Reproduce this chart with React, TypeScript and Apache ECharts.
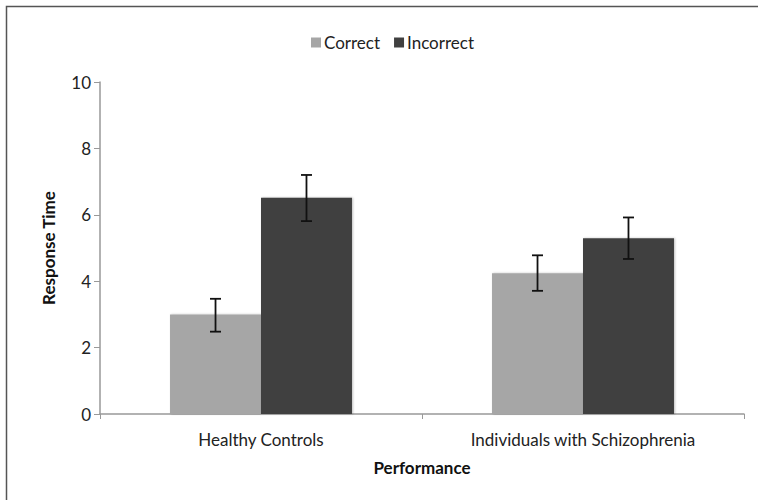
import React, { useEffect, useRef } from "react";
import * as echarts from "echarts";

const categories = ["Healthy Controls", "Individuals with Schizophrenia"];
const seriesNames = ["Correct", "Incorrect"];
const correctValues = [3.0, 4.24];
const incorrectValues = [6.51, 5.29];
const correctErrLow = [2.48, 3.71];
const correctErrHigh = [3.47, 4.78];
const incorrectErrLow = [5.81, 4.67];
const incorrectErrHigh = [7.2, 5.92];
const yTicks = [0, 2, 4, 6, 8, 10];

const FONT = "Lato";
const FS = 17;
const BAR_GROUP = 0.565;

function errorSeries(name: string, idx: number, lows: number[], highs: number[]) {
  return {
    type: "custom",
    name: name + " error",
    z: 10,
    silent: true,
    data: categories.map((_, i) => [i, lows[i], highs[i]]),
    encode: { x: 0, y: [1, 2] },
    renderItem: (params: any, api: any) => {
      const ci = api.value(0);
      const lo = api.coord([ci, api.value(1)]);
      const hi = api.coord([ci, api.value(2)]);
      const band = api.size([1, 0])[0];
      const barW = (band * BAR_GROUP) / 2;
      const x = lo[0] + (idx - 0.5) * barW;
      const cap = 5.5;
      const style = { stroke: "#111", lineWidth: 1.8 };
      return {
        type: "group",
        children: [
          { type: "line", shape: { x1: x, y1: lo[1], x2: x, y2: hi[1] }, style },
          { type: "line", shape: { x1: x - cap, y1: hi[1], x2: x + cap, y2: hi[1] }, style },
          { type: "line", shape: { x1: x - cap, y1: lo[1], x2: x + cap, y2: lo[1] }, style },
        ],
      };
    },
  };
}

export default function App() {
  const ref = useRef<HTMLDivElement>(null);
  useEffect(() => {
    if (!ref.current) return;
    const chart = echarts.init(ref.current, null, { renderer: "svg" });
    chart.setOption({
      animation: false,
      backgroundColor: "#ffffff",
      textStyle: { fontFamily: FONT },
      graphic: [
        {
          type: "rect",
          shape: { x: 6.5, y: 6.5, width: 900, height: 700 },
          style: { fill: "none", stroke: "#555", lineWidth: 1.5 },
          z: 100,
          silent: true,
        },
      ],
      legend: {
        data: seriesNames,
        top: 29,
        left: 306,
        itemWidth: 10,
        itemHeight: 10,
        itemGap: 14,
        icon: "rect",
        textStyle: { fontFamily: FONT, fontSize: FS, color: "#222", padding: [0, 0, 0, -2] },
      },
      grid: { left: 100, right: 14, top: 82, bottom: 86, containLabel: false },
      xAxis: {
        type: "category",
        data: categories,
        name: "Performance",
        nameLocation: "middle",
        nameGap: 45,
        nameTextStyle: { fontFamily: FONT, fontSize: FS, fontWeight: "bold", color: "#111" },
        axisLine: { lineStyle: { color: "#999", width: 1.5 } },
        axisTick: { show: true, alignWithLabel: false, length: 5, lineStyle: { color: "#999" } },
        axisLabel: { fontFamily: FONT, fontSize: FS, color: "#222", margin: 17 },
      },
      yAxis: {
        type: "value",
        min: 0,
        max: 10,
        interval: 2,
        name: "Response Time",
        nameLocation: "middle",
        nameGap: 43,
        nameTextStyle: { fontFamily: FONT, fontSize: FS, fontWeight: "bold", color: "#111" },
        axisLine: { show: true, lineStyle: { color: "#999", width: 1.5 } },
        axisTick: { show: true, length: 6, lineStyle: { color: "#999" } },
        splitLine: { show: false },
        axisLabel: {
          fontFamily: FONT,
          fontSize: FS,
          color: "#222",
          margin: 9,
          formatter: (v: number) => (yTicks.includes(v) ? String(v) : ""),
        },
      },
      series: [
        {
          type: "bar",
          name: seriesNames[0],
          data: correctValues,
          itemStyle: { color: "#a6a6a6", shadowColor: "rgba(0,0,0,0.25)", shadowBlur: 2, shadowOffsetX: 1 },
          barGap: "0%",
          barCategoryGap: (1 - BAR_GROUP) * 100 + "%",
        },
        {
          type: "bar",
          name: seriesNames[1],
          data: incorrectValues,
          itemStyle: { color: "#404040", shadowColor: "rgba(0,0,0,0.25)", shadowBlur: 2, shadowOffsetX: 1 },
          barGap: "0%",
          barCategoryGap: (1 - BAR_GROUP) * 100 + "%",
        },
        errorSeries(seriesNames[0], 0, correctErrLow, correctErrHigh),
        errorSeries(seriesNames[1], 1, incorrectErrLow, incorrectErrHigh),
      ],
    });
    return () => chart.dispose();
  }, []);
  return (
    <div
      ref={ref}
      style={{ position: "absolute", left: 0, top: 0, width: 758, height: 500 }}
    />
  );
}
